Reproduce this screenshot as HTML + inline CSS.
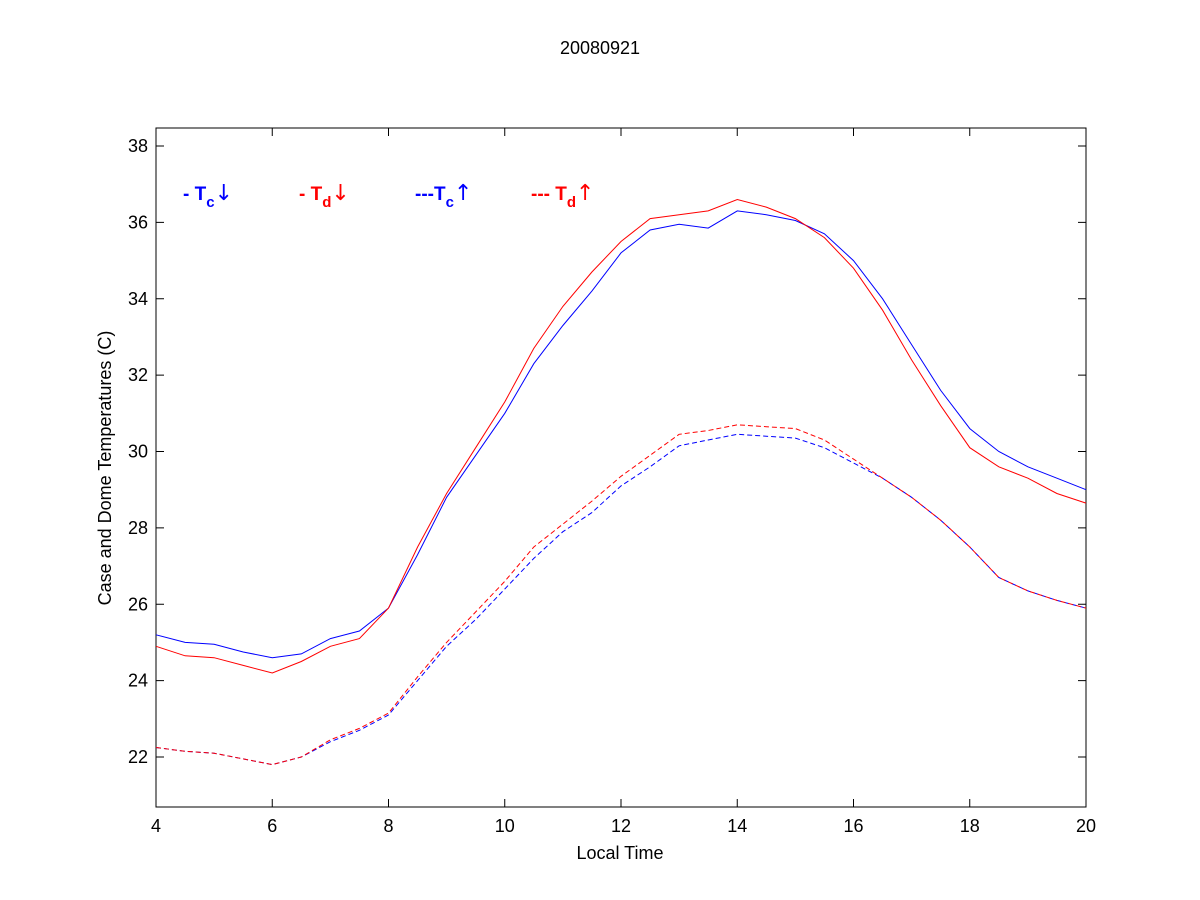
<!DOCTYPE html>
<html><head><meta charset="utf-8"><style>
body{margin:0;background:#fff;}
svg{display:block;font-family:"Liberation Sans",Arial,sans-serif;}
</style></head><body>
<svg id="chart" width="1200" height="900" xmlns="http://www.w3.org/2000/svg">
<rect width="1200" height="900" fill="#fff"/>
<text x="600" y="54" font-size="18" text-anchor="middle">20080921</text>
<rect x="156" y="128" width="930" height="679" fill="#fff" stroke="#000" stroke-width="1"/>
<g id="ticks"></g>
<g id="series"></g>
<text x="620" y="859" font-size="18" text-anchor="middle">Local Time</text>
<text transform="translate(111,468) rotate(-90)" font-size="18" text-anchor="middle">Case and Dome Temperatures (C)</text>
<g font-size="19" font-weight="bold">
<text x="183" y="200" fill="#0000ff">- T<tspan font-size="15" dy="7">c</tspan><tspan dy="-7" font-family="DejaVu Sans" font-weight="normal" font-size="22">↓</tspan></text>
<text x="299" y="200" fill="#ff0000">- T<tspan font-size="15" dy="7">d</tspan><tspan dy="-7" font-family="DejaVu Sans" font-weight="normal" font-size="22">↓</tspan></text>
<text x="415" y="200" fill="#0000ff">---T<tspan font-size="15" dy="7">c</tspan><tspan dy="-7" font-family="DejaVu Sans" font-weight="normal" font-size="22">↑</tspan></text>
<text x="531" y="200" fill="#ff0000">--- T<tspan font-size="15" dy="7">d</tspan><tspan dy="-7" font-family="DejaVu Sans" font-weight="normal" font-size="22">↑</tspan></text>
</g>
</svg>
<script>
const hours = [4,4.5,5,5.5,6,6.5,7,7.5,8,8.5,9,9.5,10,10.5,11,11.5,12,12.5,13,13.5,14,14.5,15,15.5,16,16.5,17,17.5,18,18.5,19,19.5,20];
const tcDown = [25.2,25.0,24.95,24.75,24.6,24.7,25.1,25.3,25.9,27.3,28.8,29.9,31.0,32.3,33.3,34.2,35.2,35.8,35.95,35.85,36.3,36.2,36.05,35.7,35.0,34.0,32.8,31.6,30.6,30.0,29.6,29.3,29.0];
const tdDown = [24.9,24.65,24.6,24.4,24.2,24.5,24.9,25.1,25.9,27.5,28.9,30.1,31.3,32.7,33.8,34.7,35.5,36.1,36.2,36.3,36.6,36.4,36.1,35.6,34.8,33.7,32.4,31.2,30.1,29.6,29.3,28.9,28.65];
const tcUp = [22.25,22.15,22.1,21.95,21.8,22.0,22.4,22.7,23.1,24.0,24.9,25.6,26.4,27.2,27.9,28.4,29.1,29.6,30.15,30.3,30.45,30.4,30.35,30.1,29.7,29.3,28.8,28.2,27.5,26.7,26.35,26.1,25.9];
const tdUp = [22.25,22.15,22.1,21.95,21.8,22.0,22.45,22.75,23.15,24.1,25.0,25.8,26.6,27.5,28.1,28.7,29.35,29.9,30.45,30.55,30.7,30.65,30.6,30.3,29.8,29.3,28.8,28.2,27.5,26.7,26.35,26.1,25.9];
const xTicks = [4,6,8,10,12,14,16,18,20];
const yTicks = [22,24,26,28,30,32,34,36,38];
const NS="http://www.w3.org/2000/svg";
const X0=156,X1=1086;
function xs(v){return X0+(v-4)/16*(X1-X0);}
function ys(v){return 757-(v-22)*(757-146)/16;}
const tg=document.getElementById('ticks');
function mk(tag,attrs,parent){const e=document.createElementNS(NS,tag);for(const k in attrs)e.setAttribute(k,attrs[k]);parent.appendChild(e);return e;}
xTicks.forEach(t=>{
  const x=xs(t);
  const l1=mk('line',{x1:x,x2:x,y1:807,y2:799,stroke:'#000'},tg);
  
  
  mk('line',{x1:x,x2:x,y1:128,y2:136,stroke:'#000'},tg);
  const tx=mk('text',{x:x,y:832,'font-size':18,'text-anchor':'middle'},tg);
  tx.textContent=t;
  
  
});
yTicks.forEach(t=>{
  const y=ys(t);
  const l1=mk('line',{x1:156,x2:164,y1:y,y2:y,stroke:'#000'},tg);
  
  
  mk('line',{x1:1086,x2:1078,y1:y,y2:y,stroke:'#000'},tg);
  const tx=mk('text',{x:148,y:y+6,'font-size':18,'text-anchor':'end'},tg);
  tx.textContent=t;
  
  
});
const sg=document.getElementById('series');
function line(vals,color,dash,name){
  const d=vals.map((v,i)=>(i?'L':'M')+xs(hours[i]).toFixed(1)+','+ys(v).toFixed(1)).join('');
  const p=mk('path',{d:d,fill:'none',stroke:color,'stroke-width':1},sg);
  if(dash)p.setAttribute('stroke-dasharray','5,3');
  
  
}
line(tcUp,'#0000ff',true,'series-tc-up');
line(tdUp,'#ff0000',true,'series-td-up');
line(tcDown,'#0000ff',false,'series-tc-down');
line(tdDown,'#ff0000',false,'series-td-down');
</script>
</body></html>
